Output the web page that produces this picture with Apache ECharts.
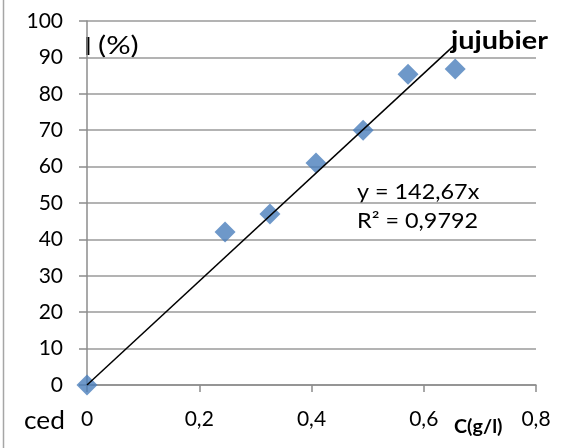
<!DOCTYPE html>
<html>
<head>
<meta charset="utf-8">
<script src="https://cdn.jsdelivr.net/npm/echarts@6/dist/echarts.min.js"></script>
<style>
  html, body { margin: 0; padding: 0; background: #fff; }
  #chart { width: 580px; height: 448px; }
</style>
</head>
<body>
<div id="chart"></div>
<script>
// Concentration (g/l) and inhibition (%) measurements
const concentrations = [0, 0.246, 0.326, 0.408, 0.492, 0.572, 0.656];
const inhibition = [0, 42.0, 47.0, 61.0, 70.0, 85.4, 86.8];
// Linear fit through the origin
const slope = 142.67;
const rSquared = 0.9792;
const xTicks = [0, 0.2, 0.4, 0.6, 0.8];
const yTicks = [0, 10, 20, 30, 40, 50, 60, 70, 80, 90, 100];

const FONT = 'Lato, "Open Sans", sans-serif';
const fmt = v => String(v).replace('.', ',');

const points = concentrations.map((c, i) => [c, inhibition[i]]);
const xEnd = Math.max(...concentrations);
const fitLine = [[0, 0], [xEnd, slope * xEnd]];

// Free-standing text, anchored at its left edge and vertical middle
function label(text, x, y, font, sx) {
  return {
    type: 'text', x: x, y: y, scaleX: sx || 1,
    style: { text: text, x: 0, y: 0, font: font, fill: '#000', align: 'left', verticalAlign: 'middle' }
  };
}

const chart = echarts.init(document.getElementById('chart'), null, { renderer: 'canvas' });
chart.setOption({
  animation: false,
  backgroundColor: '#ffffff',
  grid: { left: 87, right: 44, top: 21, bottom: 63, containLabel: false },
  xAxis: {
    type: 'value',
    min: xTicks[0],
    max: xTicks[xTicks.length - 1],
    interval: 0.2,
    axisLine: { show: true, onZero: false, lineStyle: { color: '#8c8c8c', width: 1.5 } },
    axisTick: { show: true, inside: false, length: 7, lineStyle: { color: '#8c8c8c', width: 1.5 } },
    splitLine: { show: false },
    axisLabel: {
      margin: 24,
      color: '#000',
      fontFamily: FONT,
      fontSize: 21,
      formatter: v => fmt(v)
    }
  },
  yAxis: {
    type: 'value',
    min: yTicks[0],
    max: yTicks[yTicks.length - 1],
    interval: 10,
    axisLine: { show: true, onZero: false, lineStyle: { color: '#8c8c8c', width: 1.5 } },
    axisTick: { show: true, inside: false, length: 8, lineStyle: { color: '#8c8c8c', width: 1.5 } },
    splitLine: { show: true, lineStyle: { color: '#9a9a9a', width: 1.5 } },
    axisLabel: {
      margin: 24,
      color: '#000',
      fontFamily: FONT,
      fontSize: 21,
      formatter: v => String(v)
    }
  },
  series: [
    {
      type: 'line',
      data: fitLine,
      symbol: 'none',
      lineStyle: { color: '#000', width: 1.5 },
      z: 3
    },
    {
      type: 'scatter',
      data: points,
      symbol: 'diamond',
      symbolSize: [21, 21],
      itemStyle: { color: '#4a7ebb' },
      z: 2
    }
  ],
  graphic: [
    { type: 'line', shape: { x1: 3.5, y1: 0, x2: 3.5, y2: 448 }, style: { stroke: '#a6a6a6', lineWidth: 1.5 } },
    label('I', 84, 47, 'bold 25px ' + FONT),
    label('(%)', 98, 46, '25px ' + FONT, 1.22),
    label('jujubier', 451, 41, 'bold 24px ' + FONT, 1.2),
    label('y = ' + fmt(slope) + 'x', 357, 192, '20.5px ' + FONT, 1.14),
    label('R² = ' + fmt(rSquared), 357, 221, '20.5px ' + FONT, 1.14),
    label('ced', 24, 421, '25px ' + FONT, 1.05),
    label('C(g/l)', 454, 427, 'bold 19px ' + FONT, 1.04)
  ]
});
</script>
</body>
</html>
